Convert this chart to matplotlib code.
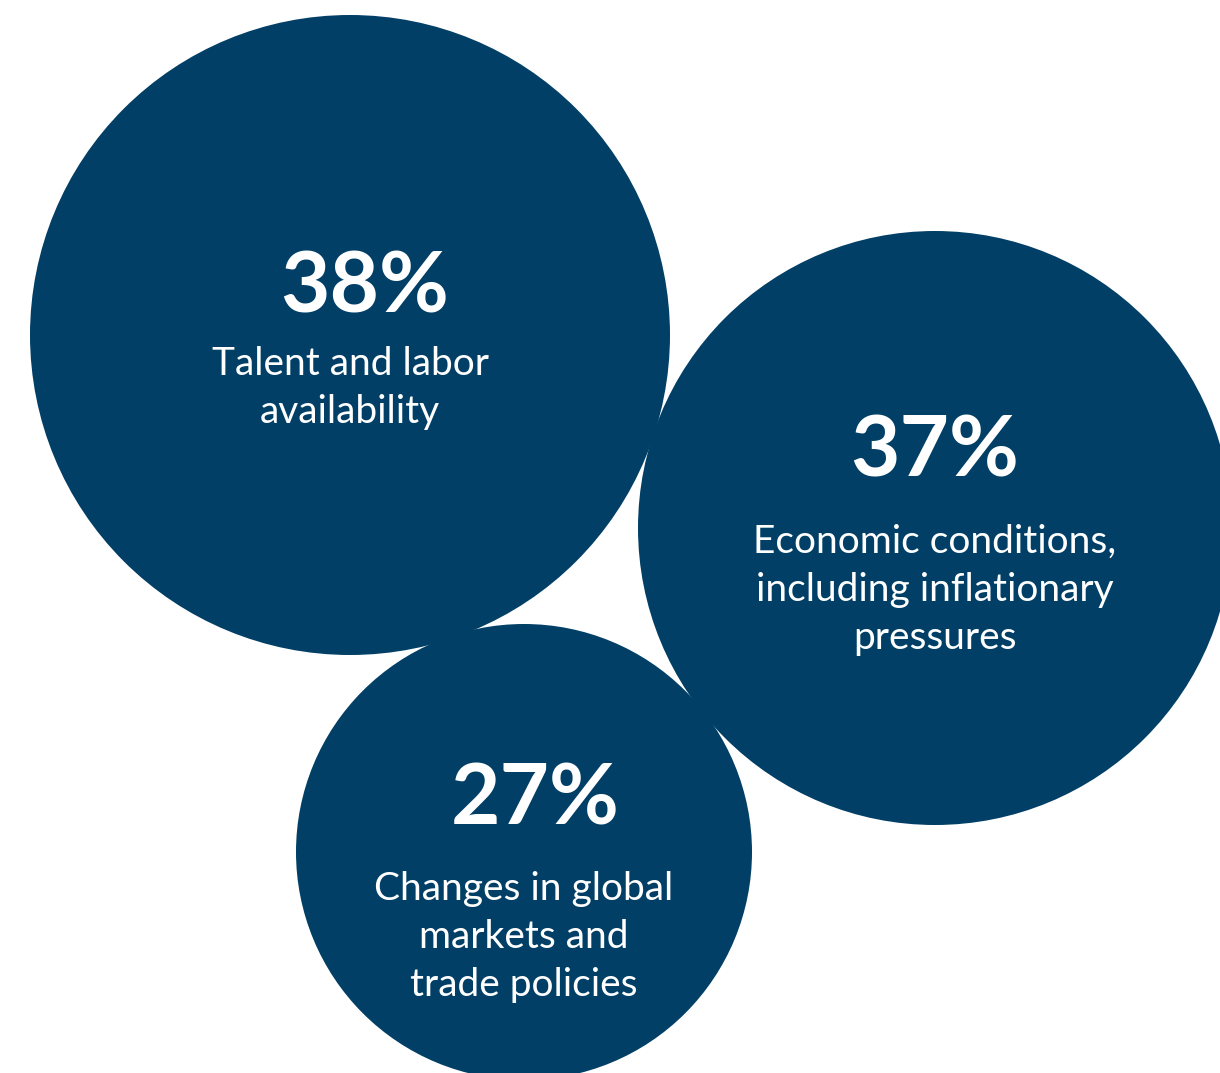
import matplotlib.pyplot as plt
from matplotlib.patches import Circle

values = [38, 37, 27]
labels = ["Talent and labor\navailability",
          "Economic conditions,\nincluding inflationary\npressures",
          "Changes in global\nmarkets and\ntrade policies"]

# layout (pixels)
centers = [(350, 335), (935, 528), (524, 852)]
radii = [320, 297, 228]
num_pos = [(365, 288), (935, 452), (535, 800)]
lab_top = [364, 542, 889]
lab_x = [350, 935, 524]

navy = "#013F66"

fig = plt.figure(figsize=(12.2, 10.73), dpi=100)
ax = fig.add_axes([0, 0, 1, 1])
ax.set_xlim(0, 1220)
ax.set_ylim(1073, 0)
ax.set_aspect("equal")
ax.axis("off")

for (cx, cy), r in zip(centers, radii):
    ax.add_patch(Circle((cx, cy), r, color=navy, lw=0))

for v, lab, (nx, ny), ly, lx in zip(values, labels, num_pos, lab_top, lab_x):
    ax.text(nx, ny, f"{v}%", color="white", fontsize=61.5, fontfamily="Lato",
            fontweight="bold", ha="center", va="center")
    for i, line in enumerate(lab.split("\n")):
        ax.text(lx, ly + i * 48, line, color="white", fontsize=28,
                fontfamily="Lato", ha="center", va="center")

fig.savefig("out.png", dpi=100)
